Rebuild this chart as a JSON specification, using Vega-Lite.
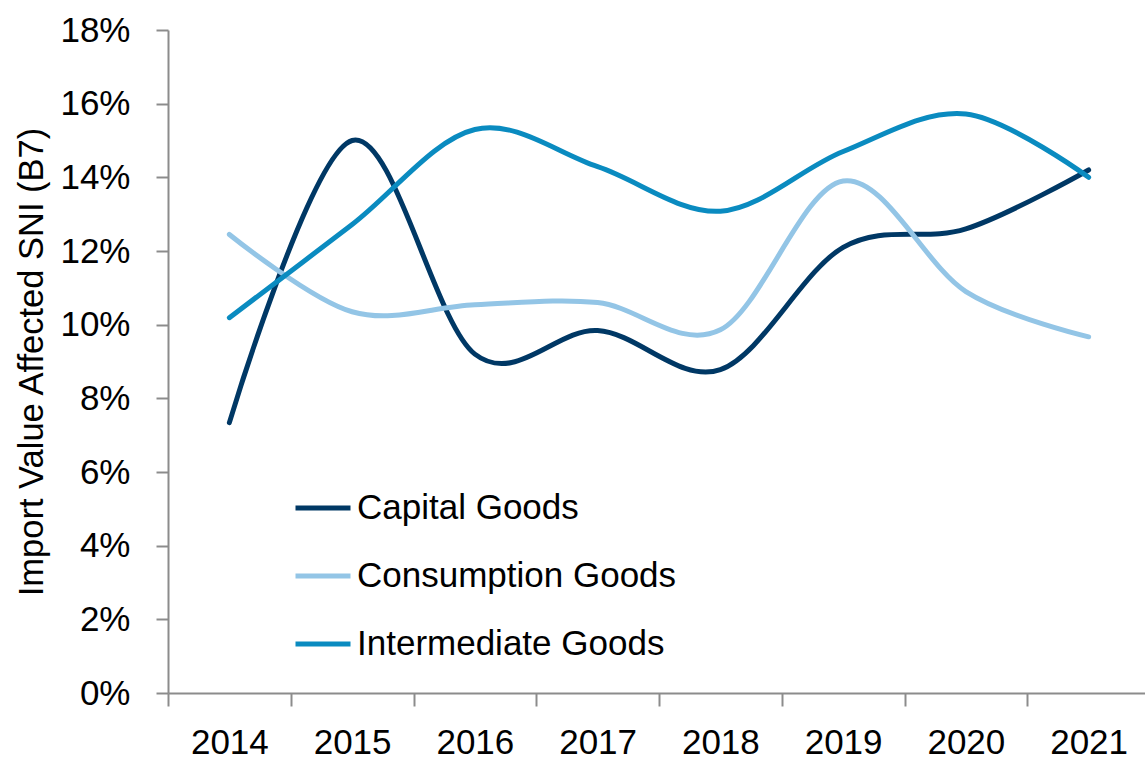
{
  "$schema": "https://vega.github.io/schema/vega-lite/v6.json",
  "width": 977,
  "height": 663,
  "autosize": "none",
  "padding": {"left": 168, "top": 30, "right": 0, "bottom": 71},
  "background": "white",
  "config": {
    "view": {"stroke": null},
    "font": "Liberation Sans, Arial, sans-serif"
  },
  "data": {
    "values": [
      {"year": "2014", "series": "Capital Goods", "value": 0.0734},
      {"year": "2015", "series": "Capital Goods", "value": 0.150},
      {"year": "2016", "series": "Capital Goods", "value": 0.092},
      {"year": "2017", "series": "Capital Goods", "value": 0.0984},
      {"year": "2018", "series": "Capital Goods", "value": 0.0878},
      {"year": "2019", "series": "Capital Goods", "value": 0.121},
      {"year": "2020", "series": "Capital Goods", "value": 0.126},
      {"year": "2021", "series": "Capital Goods", "value": 0.142},
      {"year": "2014", "series": "Consumption Goods", "value": 0.1245},
      {"year": "2015", "series": "Consumption Goods", "value": 0.1035},
      {"year": "2016", "series": "Consumption Goods", "value": 0.1054},
      {"year": "2017", "series": "Consumption Goods", "value": 0.106},
      {"year": "2018", "series": "Consumption Goods", "value": 0.0986},
      {"year": "2019", "series": "Consumption Goods", "value": 0.139},
      {"year": "2020", "series": "Consumption Goods", "value": 0.109},
      {"year": "2021", "series": "Consumption Goods", "value": 0.0967},
      {"year": "2014", "series": "Intermediate Goods", "value": 0.1019},
      {"year": "2015", "series": "Intermediate Goods", "value": 0.1272},
      {"year": "2016", "series": "Intermediate Goods", "value": 0.1530},
      {"year": "2017", "series": "Intermediate Goods", "value": 0.1429},
      {"year": "2018", "series": "Intermediate Goods", "value": 0.1308},
      {"year": "2019", "series": "Intermediate Goods", "value": 0.147},
      {"year": "2020", "series": "Intermediate Goods", "value": 0.1572},
      {"year": "2021", "series": "Intermediate Goods", "value": 0.140}
    ]
  },
  "mark": {"type": "line", "interpolate": "cardinal", "tension": 0, "strokeWidth": 5, "strokeCap": "round"},
  "encoding": {
    "x": {
      "field": "year", "type": "ordinal", "bandPosition": 0.5,
      "scale": {"type": "band", "range": [0, 982], "paddingInner": 0, "paddingOuter": 0},
      "axis": {
        "title": null, "labelAngle": 0, "tickBand": "extent",
        "domainColor": "#8c8c8c", "domainWidth": 2, "tickColor": "#8c8c8c", "tickWidth": 2, "tickSize": 13,
        "labelFontSize": 35, "labelColor": "#000000", "labelPadding": 19, "grid": false
      }
    },
    "y": {
      "field": "value", "type": "quantitative",
      "scale": {"domain": [0, 0.18], "nice": false, "zero": true},
      "axis": {
        "title": "Import Value Affected SNI (B7)", "titleFontSize": 34.5, "titleFontWeight": "normal", "titleColor": "#000000", "titlePadding": 10,
        "format": ".0%", "values": [0, 0.02, 0.04, 0.06, 0.08, 0.1, 0.12, 0.14, 0.16, 0.18],
        "domainColor": "#8c8c8c", "domainWidth": 2, "tickColor": "#8c8c8c", "tickWidth": 2, "tickSize": 12,
        "labelFontSize": 35, "labelColor": "#000000", "labelPadding": 26, "grid": false
      }
    },
    "color": {
      "field": "series", "type": "nominal",
      "scale": {"domain": ["Capital Goods", "Consumption Goods", "Intermediate Goods"], "range": ["#003865", "#93c5e6", "#0a8bc0"]},
      "legend": {
        "title": null, "orient": "none", "legendX": 125, "legendY": 448, "padding": 0,
        "symbolType": "stroke", "symbolSize": 3025, "symbolStrokeWidth": 5,
        "labelFontSize": 35, "labelColor": "#000000", "labelOffset": 4, "rowPadding": 20, "labelLimit": 500
      }
    }
  }
}
